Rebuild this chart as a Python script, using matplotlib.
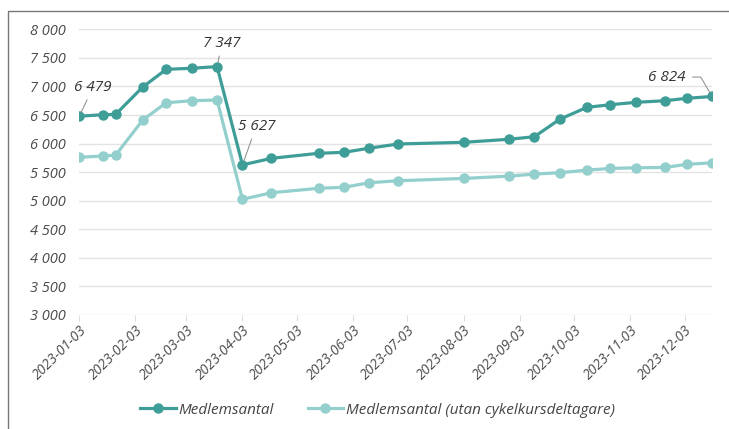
import pandas as pd
import matplotlib
matplotlib.use("Agg")
import matplotlib.pyplot as plt
import matplotlib.dates as mdates
from matplotlib.ticker import FuncFormatter
from matplotlib.patches import Rectangle


# Mätdatum och medlemsantal
datum = ["2023-01-03", "2023-01-16", "2023-01-23", "2023-02-07", "2023-02-20",
         "2023-03-06", "2023-03-20", "2023-04-03", "2023-04-19", "2023-05-15",
         "2023-05-29", "2023-06-12", "2023-06-28", "2023-08-03", "2023-08-28",
         "2023-09-11", "2023-09-25", "2023-10-10", "2023-10-23", "2023-11-06",
         "2023-11-22", "2023-12-04", "2023-12-18"]
medlemmar = [6479, 6505, 6510, 6990, 7300, 7318, 7347, 5627, 5742, 5830,
             5847, 5920, 5993, 6022, 6075, 6120, 6425, 6635, 6680, 6722,
             6750, 6792, 6824]
utan_cykelkurs = [5760, 5783, 5795, 6413, 6715, 6750, 6763, 5025, 5140, 5217,
                  5235, 5315, 5350, 5390, 5430, 5466, 5490, 5536, 5565, 5576,
                  5583, 5636, 5664]
serie_namn = ["Medlemsantal", "Medlemsantal (utan cykelkursdeltagare)"]
tick_datum = ["2023-01-03", "2023-02-03", "2023-03-03", "2023-04-03", "2023-05-03",
              "2023-06-03", "2023-07-03", "2023-08-03", "2023-09-03", "2023-10-03",
              "2023-11-03", "2023-12-03"]
etiketter = {0: "6 479", 6: "7 347", 7: "5 627", 22: "6 824"}

MORK = "#3f9d98"
LJUS = "#93cfcc"

plt.rcParams["font.family"] = ["Open Sans", "DejaVu Sans"]
plt.rcParams["font.style"] = "italic"

x = pd.to_datetime(datum)

fig = plt.figure(figsize=(7.29, 4.29), dpi=100)
ax = fig.add_axes([79.3 / 729, 1 - 315 / 429, (712 - 79.3) / 729, (315 - 29.3) / 429])

ax.plot(x, medlemmar, color=MORK, lw=2.3, marker="o", ms=6.5, label=serie_namn[0], zorder=3)
ax.plot(x, utan_cykelkurs, color=LJUS, lw=2.3, marker="o", ms=6.5, label=serie_namn[1], zorder=2)

ax.set_ylim(3000, 8000)
ax.set_yticks(range(3000, 8001, 500))
ax.yaxis.set_major_formatter(FuncFormatter(lambda v, p: f"{v:,.0f}".replace(",", " ")))
ax.set_xticks(pd.to_datetime(tick_datum))
ax.xaxis.set_major_formatter(mdates.DateFormatter("%Y-%m-%d"))
ax.set_xlim(x[0], x[-1])

ax.grid(axis="y", color="#e3e3e3", lw=1)
ax.set_axisbelow(True)
for s in ax.spines.values():
    s.set_visible(False)
ax.tick_params(axis="y", length=0, pad=10, labelsize=10.5, labelcolor="#4a4a4a")
ax.tick_params(axis="x", length=4, color="#dddddd", pad=2, labelsize=10, labelcolor="#4a4a4a")
plt.setp(ax.get_xticklabels(), rotation=45, ha="right", rotation_mode="anchor")

# Värdeetiketter med hänvisningslinjer
offsets = {0: (10, 21), 6: (3.5, 17), 7: (10, 28), 22: (-19, 14)}
for i, txt in etiketter.items():
    dx, dy = offsets[i]
    if i == 22:
        ax.annotate(txt, (x[i], medlemmar[i]), xytext=(dx, dy), textcoords="offset points",
                    ha="right", va="center", fontsize=11, color="#333333",
                    arrowprops=dict(arrowstyle="-", color="#888888", lw=0.7,
                                    connectionstyle="angle,angleA=0,angleB=120,rad=0",
                                    shrinkA=3, shrinkB=3), annotation_clip=False)
    else:
        ax.annotate(txt, (x[i], medlemmar[i]), xytext=(dx, dy), textcoords="offset points",
                    ha="center", va="center", fontsize=11, color="#333333",
                    arrowprops=dict(arrowstyle="-", color="#888888", lw=0.7,
                                    shrinkA=2, shrinkB=3), annotation_clip=False)

fig.legend(loc="center", bbox_to_anchor=(0.518, 0.044), ncol=2, frameon=False,
           fontsize=11, handlelength=2.3, handletextpad=0.2, columnspacing=2.2,
           labelcolor="#444444")

# Ram runt figuren (syns upptill och till vänster)
fig.patches.append(Rectangle((8.3 / 729, -0.1), 1.2, 1.1 - 11 / 429, transform=fig.transFigure,
                             fill=False, edgecolor="#777777", lw=1.0))

fig.savefig("out.png", dpi=100)
